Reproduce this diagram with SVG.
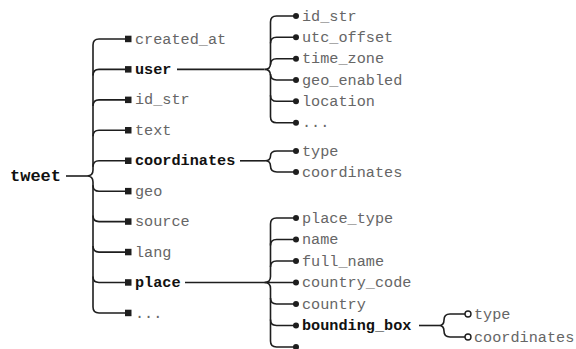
<svg xmlns="http://www.w3.org/2000/svg" width="576" height="349" viewBox="0 0 576 349">
<style>
.c{fill:none;stroke:#1e1e1e;stroke-width:1.6}
.t{font-family:"Liberation Mono","Courier New",monospace;font-size:15.2px;fill:#666}
.b{font-weight:bold;fill:#111}
.sq{fill:#1e1e1e}
.dot{fill:#1e1e1e}
.od{fill:#fff;stroke:#1e1e1e;stroke-width:1.4}
</style>
<rect width="576" height="349" fill="#fff"/>
<g id="connectors">
<path class="c" d="M66 176H87"/>
<path class="c" d="M125 39H99Q93 39 93 45V170Q93 176 87 176Q93 176 93 182V307Q93 313 99 313H125"/>
<path class="c" d="M93 75.4Q93 69.4 99 69.4H125"/>
<path class="c" d="M93 105.9Q93 99.9 99 99.9H125"/>
<path class="c" d="M93 136.3Q93 130.3 99 130.3H125"/>
<path class="c" d="M93 166.8Q93 160.8 99 160.8H125"/>
<path class="c" d="M93 185.2Q93 191.2 99 191.2H125"/>
<path class="c" d="M93 215.6Q93 221.6 99 221.6H125"/>
<path class="c" d="M93 246.1Q93 252.1 99 252.1H125"/>
<path class="c" d="M93 276.5Q93 282.5 99 282.5H125"/>
<path class="c" d="M177 69.4H264.5"/>
<path class="c" d="M295 16H276.5Q270.5 16 270.5 22V63.4Q270.5 69.4 264.5 69.4Q270.5 69.4 270.5 75.4V116.7Q270.5 122.7 276.5 122.7H295"/>
<path class="c" d="M270.5 43.3Q270.5 37.3 276.5 37.3H295"/>
<path class="c" d="M270.5 64.7Q270.5 58.7 276.5 58.7H295"/>
<path class="c" d="M270.5 74Q270.5 80 276.5 80H295"/>
<path class="c" d="M270.5 95.3Q270.5 101.3 276.5 101.3H295"/>
<path class="c" d="M240 160.8H265"/>
<path class="c" d="M295 151H277Q270.5 151 270.5 156Q270.5 160.8 265 160.8Q270.5 160.8 270.5 166Q270.5 172 277 172H295"/>
<path class="c" d="M185 282.5H295"/>
<path class="c" d="M295 218H276.5Q270.5 218 270.5 224V276.5Q270.5 282.5 264.5 282.5Q270.5 282.5 270.5 288.5V341Q270.5 347 276.5 347H295"/>
<path class="c" d="M270.5 245.5Q270.5 239.5 276.5 239.5H295"/>
<path class="c" d="M270.5 267Q270.5 261 276.5 261H295"/>
<path class="c" d="M270.5 298Q270.5 304 276.5 304H295"/>
<path class="c" d="M270.5 319.5Q270.5 325.5 276.5 325.5H295"/>
<path class="c" d="M419 325.5H439"/>
<path class="c" d="M465 314H450Q444 314 444 320Q444 325.5 439 325.5Q444 325.5 444 331Q444 337 450 337H465"/>
</g>
<g id="tweet"><text class="t b" x="10" y="181" style="font-size:17px">tweet</text></g>
<g id="created_at"><rect class="sq" x="125" y="35.7" width="6.5" height="6.5"/><text class="t" x="135" y="43.5">created_at</text></g>
<g id="user"><rect class="sq" x="125" y="66.1" width="6.5" height="6.5"/><text class="t b" x="135" y="73.9">user</text></g>
<g id="id_str"><rect class="sq" x="125" y="96.6" width="6.5" height="6.5"/><text class="t" x="135" y="104.4">id_str</text></g>
<g id="text"><rect class="sq" x="125" y="127" width="6.5" height="6.5"/><text class="t" x="135" y="134.8">text</text></g>
<g id="coordinates"><rect class="sq" x="125" y="157.5" width="6.5" height="6.5"/><text class="t b" x="135" y="165.3">coordinates</text></g>
<g id="geo"><rect class="sq" x="125" y="187.9" width="6.5" height="6.5"/><text class="t" x="135" y="195.7">geo</text></g>
<g id="source"><rect class="sq" x="125" y="218.3" width="6.5" height="6.5"/><text class="t" x="135" y="226.1">source</text></g>
<g id="lang"><rect class="sq" x="125" y="248.8" width="6.5" height="6.5"/><text class="t" x="135" y="256.6">lang</text></g>
<g id="place"><rect class="sq" x="125" y="279.2" width="6.5" height="6.5"/><text class="t b" x="135" y="287">place</text></g>
<g id="more"><rect class="sq" x="125" y="309.7" width="6.5" height="6.5"/><text class="t" x="135" y="317.5">...</text></g>
<g id="user_id_str"><circle class="dot" cx="296" cy="16" r="3"/><text class="t" x="302" y="20.5">id_str</text></g>
<g id="user_utc_offset"><circle class="dot" cx="296" cy="37.3" r="3"/><text class="t" x="302" y="41.8">utc_offset</text></g>
<g id="user_time_zone"><circle class="dot" cx="296" cy="58.7" r="3"/><text class="t" x="302" y="63.2">time_zone</text></g>
<g id="user_geo_enabled"><circle class="dot" cx="296" cy="80" r="3"/><text class="t" x="302" y="84.5">geo_enabled</text></g>
<g id="user_location"><circle class="dot" cx="296" cy="101.3" r="3"/><text class="t" x="302" y="105.8">location</text></g>
<g id="user_more"><circle class="dot" cx="296" cy="122.7" r="3"/><text class="t" x="302" y="127.2">...</text></g>
<g id="coord_type"><circle class="dot" cx="296" cy="151" r="3"/><text class="t" x="302" y="155.5">type</text></g>
<g id="coord_coordinates"><circle class="dot" cx="296" cy="172" r="3"/><text class="t" x="302" y="176.5">coordinates</text></g>
<g id="place_type"><circle class="dot" cx="296" cy="218" r="3"/><text class="t" x="302" y="222.5">place_type</text></g>
<g id="place_name"><circle class="dot" cx="296" cy="239.5" r="3"/><text class="t" x="302" y="244">name</text></g>
<g id="place_full_name"><circle class="dot" cx="296" cy="261" r="3"/><text class="t" x="302" y="265.5">full_name</text></g>
<g id="place_country_code"><circle class="dot" cx="296" cy="282.5" r="3"/><text class="t" x="302" y="287">country_code</text></g>
<g id="place_country"><circle class="dot" cx="296" cy="304" r="3"/><text class="t" x="302" y="308.5">country</text></g>
<g id="place_bounding_box"><circle class="dot" cx="296" cy="325.5" r="3"/><text class="t b" x="302" y="330">bounding_box</text></g>
<g id="place_more"><circle class="dot" cx="296" cy="347" r="3"/></g>
<g id="bb_type"><circle class="od" cx="468" cy="314" r="3"/><text class="t" x="474" y="318.5">type</text></g>
<g id="bb_coordinates"><circle class="od" cx="468" cy="337" r="3"/><text class="t" x="474" y="341.5">coordinates</text></g>
</svg>
